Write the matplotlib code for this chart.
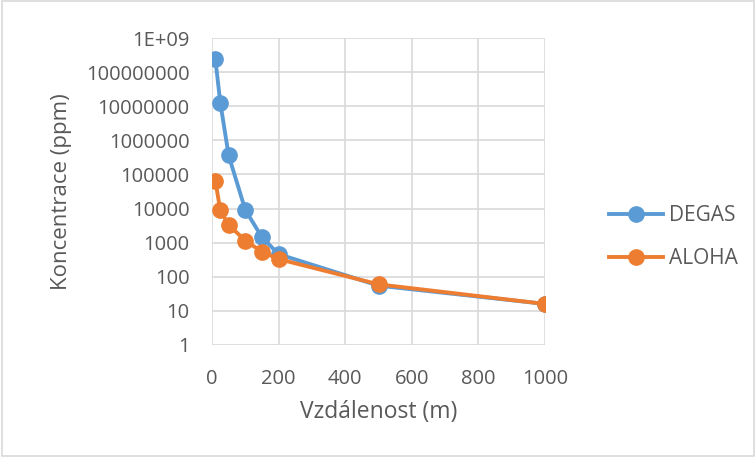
import matplotlib
matplotlib.use("Agg")
import matplotlib.pyplot as plt
from matplotlib.ticker import FixedLocator, FixedFormatter

distance = [10, 25, 50, 100, 150, 200, 500, 1000]
degas = [2.4e8, 1.26e7, 3.6e5, 9100, 1440, 460, 55, 16]
aloha = [66000, 8800, 3300, 1150, 540, 330, 60, 16]
ytick_vals = [1, 10, 100, 1000, 10000, 100000, 1000000, 10000000, 100000000, 1e9]
ytick_labels = ["1", "10", "100", "1000", "10000", "100000", "1000000",
                "10000000", "100000000", "1E+09"]
xtick_vals = [0, 200, 400, 600, 800, 1000]

plt.rcParams['font.family'] = ['Open Sans', 'DejaVu Sans']
txt = '#595959'
grid = '#d9d9d9'

fig = plt.figure(figsize=(7.56, 4.57), dpi=100)
ax = fig.add_axes([212/756, 1-345/457, (545-212)/756, (345-38)/457])
ax.set_yscale('log')
ax.set_xlim(0, 1000)
ax.set_ylim(1, 1e9)

ax.plot(distance, degas, color='#5b9bd5', lw=2.8, marker='o', ms=11, label='DEGAS', zorder=3)
ax.plot(distance, aloha, color='#ed7d31', lw=2.8, marker='o', ms=11, label='ALOHA', zorder=4)

ax.yaxis.set_major_locator(FixedLocator(ytick_vals))
ax.yaxis.set_major_formatter(FixedFormatter(ytick_labels))
ax.yaxis.set_minor_locator(FixedLocator([]))
ax.set_xticks(xtick_vals)
ax.grid(True, color=grid, lw=1.2, zorder=0)
ax.set_axisbelow(True)
for s in ax.spines.values():
    s.set_visible(False)
ax.tick_params(length=0, colors=txt, labelsize=14.5)
ax.tick_params(axis='y', pad=16)
ax.tick_params(axis='x', pad=17)
ax.set_xlabel('Vzdálenost (m)', color=txt, fontsize=16.5, labelpad=8)
ax.set_ylabel('Koncentrace (ppm)', color=txt, fontsize=16, labelpad=10)

leg = fig.legend(loc='center left', bbox_to_anchor=(609/756, 1-237/457), frameon=False,
                 fontsize=15, labelspacing=1.05, handlelength=2.6, handletextpad=0.3,
                 borderpad=0, borderaxespad=0)
for t in leg.get_texts():
    t.set_color(txt)

fig.patches.append(plt.Rectangle((0.002, 0.002), 0.996, 0.996, transform=fig.transFigure,
                                 fill=False, edgecolor='#d9d9d9', lw=1.2))
fig.savefig('out.png', dpi=100, facecolor='white')
